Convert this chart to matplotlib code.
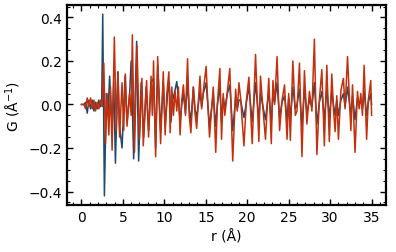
import numpy as np
import matplotlib
matplotlib.use("Agg")
import matplotlib.pyplot as plt
from matplotlib.ticker import AutoMinorLocator

# G(r) curves (peak/trough knots)
r_blue = [0.0, 0.3, 0.5, 0.7, 0.9, 1.1, 1.3, 1.5, 1.7, 1.9, 2.1, 2.3, 2.45,
          2.57, 2.77, 3.0, 3.2, 3.4, 3.7, 3.9, 4.1, 4.4, 4.6, 4.9, 5.26, 5.5,
          5.8, 6.0, 6.3, 6.66, 6.9, 7.2, 7.5, 7.8, 8.1, 8.4, 8.7, 8.95, 9.2,
          9.55, 9.87, 10.1, 10.4, 10.6, 10.8, 11.0, 11.2, 11.5, 11.7,
          11.9, 12.1, 12.3, 12.55, 12.8, 13.0, 13.2, 13.5, 13.7, 13.9, 14.3,
          14.5, 14.7, 15.04, 15.25, 15.45, 15.9, 16.2, 16.4, 16.7, 16.9, 17.1,
          17.3, 17.6, 17.9, 18.25, 18.6, 18.8, 19.0, 19.2, 19.6, 19.9, 20.2,
          20.6, 21.0, 21.4, 21.6, 21.9, 22.2, 22.6, 22.9, 23.1, 23.3, 23.6,
          23.9, 24.2, 24.5, 24.8, 25.0, 25.2, 25.5, 25.8, 26.0, 26.3, 26.6,
          26.9, 27.2, 27.5, 27.8, 28.1, 28.4, 28.7, 29.0, 29.3, 29.6, 29.9,
          30.2, 30.4, 30.6, 30.8, 31.0, 31.3, 31.6, 31.8, 32.1, 32.5, 32.7,
          33.0, 33.3, 33.5, 33.7, 33.9, 34.1, 34.4, 34.6, 34.9, 35.0]
g_blue = [0.0, 0.0, 0.01, -0.04, 0.02, -0.02, 0.02, -0.03, 0.01, -0.02, 0.02,
          -0.01, 0.02, 0.415, -0.42, 0.05, -0.05, 0.13, -0.10, 0.10, -0.27,
          0.15, -0.10, -0.20, 0.13, -0.08, 0.04, 0.20, -0.25, 0.29, -0.26,
          0.10, -0.15, 0.08, -0.12, 0.10, 0.12, -0.20, 0.18, -0.12, 0.10,
          -0.10, 0.05, 0.10, -0.08, 0.02, 0.05, 0.105, 0.03,
          -0.08, 0.0, 0.05, -0.04, 0.10, -0.02, -0.08, 0.08, -0.02, -0.06,
          0.06, -0.01, 0.05, 0.10, 0.0, -0.10, 0.05, -0.10, 0.0, 0.08, -0.08,
          0.03, -0.02, 0.05, 0.09, -0.12, 0.03, -0.02, 0.02, 0.02, -0.06,
          0.01, 0.08, -0.08, 0.10, -0.07, 0.05, -0.01, -0.07, 0.06, -0.08,
          0.05, 0.01, 0.10, -0.06, 0.01, 0.04, -0.07, 0.03, -0.06, 0.08,
          -0.02, 0.0, 0.07, -0.10, 0.07, -0.04, 0.02, -0.01, 0.10, -0.09,
          0.01, 0.06, -0.07, 0.07, -0.06, 0.06, 0.0, -0.05, 0.02, -0.05,
          0.02, 0.05, -0.01, 0.08, -0.05, 0.04, -0.07, 0.03, 0.0, 0.02,
          -0.02, 0.06, -0.05, 0.01, 0.05, 0.0]

r_red = [0.0, 0.3, 0.5, 0.7, 0.9, 1.1, 1.3, 1.5, 1.7, 1.9, 2.1, 2.3, 2.5,
         2.7, 2.9, 3.1, 3.3, 3.5, 3.7, 3.97, 4.2, 4.4, 4.6, 4.9, 5.1, 5.3,
         5.5, 5.8, 6.0, 6.14, 6.4, 6.7, 7.0, 7.3, 7.46, 7.86, 8.1, 8.4, 8.55,
         8.7, 8.95, 9.2, 9.55, 9.87, 10.1, 10.3, 10.55, 10.7, 10.9, 11.1,
         11.3, 11.5, 11.7,
         11.9, 12.1, 12.3, 12.55, 12.8, 13.0, 13.2, 13.5, 13.7, 13.9, 14.3,
         14.5, 14.7, 15.04, 15.25, 15.45, 15.9, 16.2, 16.4, 16.7, 16.9, 17.1,
         17.3, 17.6, 17.9, 18.25, 18.6, 18.8, 19.0, 19.2, 19.6, 19.9, 20.2,
         20.6, 21.0, 21.4, 21.6, 21.9, 22.2, 22.6, 22.9, 23.1, 23.3, 23.6,
         23.9, 24.2, 24.5, 24.8, 25.0, 25.2, 25.5, 25.8, 26.0, 26.3, 26.6,
         26.9, 27.2, 27.5, 27.8, 28.1, 28.4, 28.7, 29.0, 29.3, 29.6, 29.9,
         30.2, 30.4, 30.6, 30.8, 31.0, 31.3, 31.6, 31.8, 32.1, 32.5, 32.7,
         33.0, 33.3, 33.5, 33.7, 33.9, 34.1, 34.4, 34.6, 34.9, 35.0]
g_red = [0.0, 0.0, -0.02, 0.03, -0.01, 0.03, -0.02, 0.02, -0.03, 0.01, -0.02,
         0.02, -0.01, 0.19, -0.18, 0.05, -0.14, 0.08, -0.21, 0.31, -0.12,
         0.15, -0.15, 0.10, -0.12, 0.14, -0.10, 0.05, -0.05, 0.32, -0.22,
         0.27, -0.16, 0.12, -0.19, 0.11, -0.15, 0.13, -0.05, 0.20, -0.24,
         0.22, -0.18, 0.15, -0.14, 0.05, 0.15, -0.13, 0.08, -0.05, 0.06,
         -0.03, 0.08,
         -0.14, 0.02, 0.09, -0.05, 0.21, -0.05, -0.13, 0.08, -0.04, -0.11,
         0.13, -0.02, 0.06, 0.175, 0.0, -0.15, 0.08, -0.22, 0.0, 0.165, -0.16,
         0.05, -0.05, 0.06, 0.165, -0.26, 0.07, -0.03, 0.10, 0.03, -0.19,
         0.02, 0.125, -0.18, 0.23, -0.17, 0.13, -0.02, -0.16, 0.12, -0.18,
         0.11, 0.0, 0.22, -0.12, 0.02, 0.09, -0.16, 0.05, -0.165, 0.20,
         -0.05, -0.03, 0.19, -0.24, 0.155, -0.09, 0.06, -0.03, 0.30, -0.23,
         0.02, 0.16, -0.19, 0.18, -0.17, 0.14, -0.02, -0.125, 0.04, -0.16,
         0.065, 0.12, -0.02, 0.22, -0.12, 0.09, -0.22, 0.06, -0.02, 0.05,
         -0.05, 0.18, -0.16, 0.02, 0.11, -0.05]

fig = plt.figure(figsize=(3.96, 2.53), dpi=100)
ax = fig.add_axes([0.169, 0.186, 0.806, 0.790])

ax.plot(r_blue, g_blue, color="#1d4a70", lw=1.1)
ax.plot(r_red, g_red, color="#c2300c", lw=1.1)

ax.set_xlabel("r (Å)", fontsize=10)
ax.set_ylabel("G (Å$^{-1}$)", fontsize=10)
ax.set_xticks([0, 5, 10, 15, 20, 25, 30, 35])
ax.set_yticks([-0.4, -0.2, 0.0, 0.2, 0.4])
ax.xaxis.set_minor_locator(AutoMinorLocator())
ax.yaxis.set_minor_locator(AutoMinorLocator())
ax.tick_params(which="both", direction="in", top=True, right=True, labelsize=10)
ax.tick_params(which="major", length=4, width=1)
ax.tick_params(which="minor", length=2, width=0.8)
for s in ax.spines.values():
    s.set_linewidth(1.6)

fig.savefig("out.png", dpi=100)
